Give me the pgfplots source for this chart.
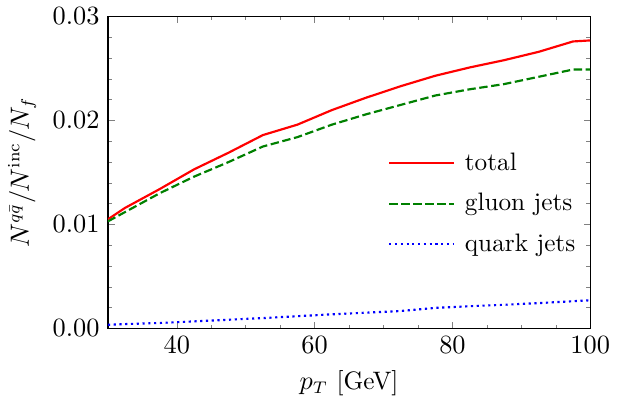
\documentclass[border=0pt]{standalone}
\usepackage{pgfplots}
\pgfplotsset{compat=1.18}
\usepackage{amsmath}

\definecolor{mplgreen}{RGB}{0,128,0}

\begin{document}
\begin{tikzpicture}
\begin{axis}[
  scale only axis,
  width=7.05cm, height=4.56cm,
  xmin=30, xmax=100,
  ymin=0, ymax=0.03,
  xtick={40,60,80,100},
  ytick={0,0.01,0.02,0.03},
  minor x tick num=3,
  minor y tick num=4,
  tick align=inside,
  xtick pos=both, ytick pos=both,
  major tick length=2.8pt,
  minor tick length=1.6pt,
  scaled y ticks=false,
  yticklabel style={/pgf/number format/.cd, fixed, fixed zerofill, precision=2},
  ticklabel style={font=\fontsize{10.5}{13}\selectfont},
  label style={font=\fontsize{10.5}{13}\selectfont},
  xlabel={$p_T$ [GeV]},
  ylabel={$N^{q\bar q}/N^{\mathrm{inc}}/N_f$},
  axis line style={line width=0.6pt},
  legend style={draw=none, fill=none, at={(0.565,0.40)}, anchor=west,
    font=\fontsize{10.5}{13}\selectfont, row sep=4pt, legend cell align=left,
    nodes={inner xsep=4pt}},
  legend image code/.code={\draw[#1] (0cm,0cm) -- (0.95cm,0cm);},
]
\addplot[red, line width=0.9pt] coordinates {
  (30,0.0105) (32.5,0.0116) (37.5,0.0134) (42.5,0.0153) (47.5,0.0169)
  (52.5,0.0186) (57.5,0.0196) (62.5,0.0210) (67.5,0.0222) (72.5,0.0233)
  (77.5,0.0243) (82.5,0.0251) (87.5,0.0258) (92.5,0.0266) (97.5,0.0276)
  (100,0.0277)
};
\addlegendentry{total}
\addplot[mplgreen, line width=0.9pt, dash pattern=on 3.5pt off 1.5pt] coordinates {
  (30,0.0103) (32.5,0.0112) (37.5,0.0130) (42.5,0.0146) (47.5,0.0160)
  (52.5,0.0175) (57.5,0.0184) (62.5,0.0196) (67.5,0.0206) (72.5,0.0215)
  (77.5,0.0224) (82.5,0.0230) (87.5,0.0235) (92.5,0.0242) (97.5,0.0249)
  (100,0.0249)
};
\addlegendentry{gluon jets}
\addplot[blue, line width=0.9pt, dash pattern=on 0.9pt off 1.5pt] coordinates {
  (30,0.00035) (32.5,0.00042) (37.5,0.00053) (42.5,0.00068) (47.5,0.00084)
  (52.5,0.00100) (57.5,0.00118) (62.5,0.00136) (67.5,0.00152) (72.5,0.00168)
  (77.5,0.00198) (82.5,0.00214) (87.5,0.00228) (92.5,0.00244) (97.5,0.00262)
  (100,0.00271)
};
\addlegendentry{quark jets}
\end{axis}
\end{tikzpicture}
\end{document}
